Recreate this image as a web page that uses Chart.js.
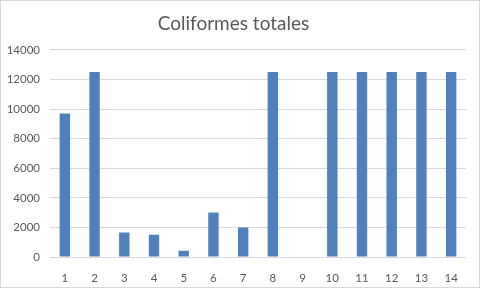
<!DOCTYPE html>
<html>
<head>
<meta charset="utf-8">
<script src="https://cdn.jsdelivr.net/npm/chart.js@4/dist/chart.umd.min.js"></script>
<style>
  html, body { margin: 0; padding: 0; background: #fff; }
  #wrap { width: 480px; height: 288px; box-sizing: border-box; border: 1px solid #d9d9d9; }
</style>
</head>
<body>
<div id="wrap"><canvas id="myChart" width="478" height="286"></canvas></div>
<script>
const categories = ["1", "2", "3", "4", "5", "6", "7", "8", "9", "10", "11", "12", "13", "14"];
const coliformes = [9700, 12500, 1650, 1500, 430, 3000, 2000, 12500, 0, 12500, 12500, 12500, 12500, 12500];
const chartTitle = "Coliformes totales";

// chart drawn once on load
const ctx = document.getElementById('myChart').getContext('2d');
const myChart = new Chart(ctx, {
  type: 'bar',
  data: {
    labels: categories,
    datasets: [{
      label: chartTitle,
      data: coliformes,
      backgroundColor: "#4f81bd",
      barPercentage: 0.35,
      categoryPercentage: 1.0
    }]
  },
  options: {
    responsive: false,
    animation: false,
    layout: { padding: { left: 0, right: 13, top: 0, bottom: 0 } },
    plugins: {
      legend: { display: false },
      tooltip: { enabled: false },
      title: {
        display: true,
        text: chartTitle,
        color: "#595959",
        font: { family: "Lato, 'Liberation Sans', sans-serif", size: 19, weight: 'normal' },
        padding: { top: 11, bottom: 15 }
      }
    },
    scales: {
      x: {
        grid: { display: false },
        border: { display: false },
        ticks: { color: "#595959", font: { family: "Lato, 'Liberation Sans', sans-serif", size: 11.5 }, padding: 6 },
        afterFit: function (scale) { scale.height = 30; }
      },
      y: {
        min: 0,
        max: 14000,
        ticks: {
          stepSize: 2000,
          color: "#595959",
          font: { family: "Lato, 'Liberation Sans', sans-serif", size: 11.5 },
          padding: 10,
          callback: function (value) { return String(value); }
        },
        grid: { color: "#d9d9d9", drawTicks: false },
        border: { display: false },
        afterFit: function (scale) { scale.width = 49; }
      }
    }
  }
});
</script>
</body>
</html>
